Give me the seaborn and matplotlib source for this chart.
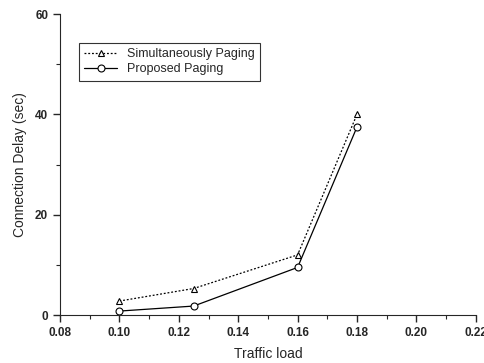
import pandas as pd
import matplotlib.pyplot as plt
from matplotlib.ticker import MultipleLocator
import seaborn as sns

traffic_load = [0.10, 0.125, 0.16, 0.18]
simultaneous_delay = [2.8, 5.3, 12.0, 40.0]
proposed_delay = [0.8, 1.8, 9.5, 37.5]

data = pd.DataFrame({
    'load': traffic_load * 2,
    'delay': simultaneous_delay + proposed_delay,
    'scheme': ['Simultaneously Paging'] * 4 + ['Proposed Paging'] * 4,
})

sns.set_style('ticks')
plt.rcParams['font.family'] = ['Liberation Sans', 'DejaVu Sans']

fig = plt.figure(figsize=(4.84, 3.63), dpi=100)
ax = fig.add_axes([0.124, 0.132, 0.859, 0.829])

sns.lineplot(
    data=data, x='load', y='delay', hue='scheme', style='scheme',
    palette=['black', 'black'], markers=['^', 'o'],
    dashes=[(1.5, 1.5), ''], linewidth=0.9, markersize=5,
    markerfacecolor='white', markeredgecolor='black', markeredgewidth=0.8,
    ax=ax
)

ax.set_xlim(0.08, 0.22)
ax.set_ylim(0, 60)
ax.xaxis.set_major_locator(MultipleLocator(0.02))
ax.xaxis.set_minor_locator(MultipleLocator(0.01))
ax.yaxis.set_major_locator(MultipleLocator(20))
ax.yaxis.set_minor_locator(MultipleLocator(10))
ax.xaxis.set_major_formatter(plt.FuncFormatter(lambda v, p: f'{v:.2f}'))
ax.tick_params(which='major', direction='out', length=5, width=1, labelsize=8.5)
ax.tick_params(which='minor', direction='out', length=3, width=0.8)
for lbl in ax.get_xticklabels() + ax.get_yticklabels():
    lbl.set_fontweight('bold')
sns.despine(ax=ax)

ax.set_xlabel('Traffic load', fontsize=10, labelpad=6)
ax.set_ylabel('Connection Delay (sec)', fontsize=10, labelpad=6)

leg = ax.legend(loc='upper left', bbox_to_anchor=(0.045, 0.905), fontsize=9,
                frameon=True, fancybox=False, edgecolor='black', handlelength=2.6,
                borderpad=0.45, labelspacing=0.25, borderaxespad=0)
leg.get_frame().set_linewidth(0.8)

fig.savefig('out.png', dpi=100)
